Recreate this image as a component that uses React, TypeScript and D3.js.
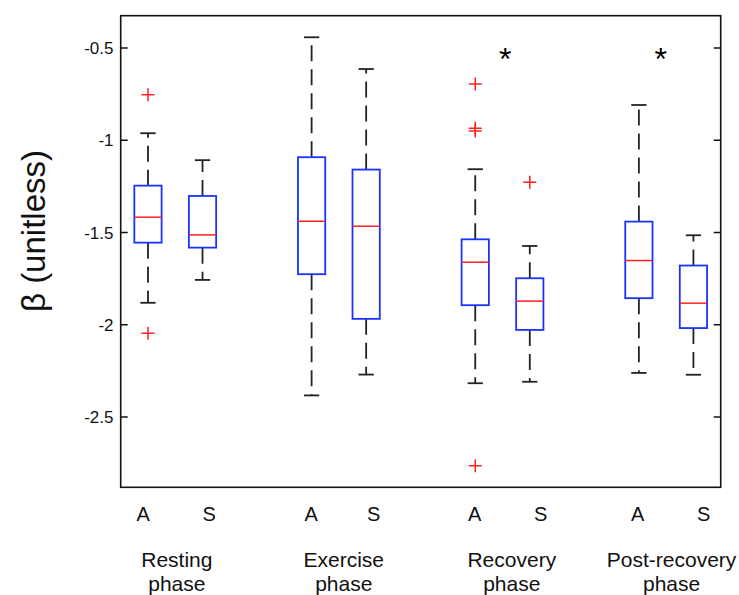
import React from 'react';
import * as d3 from 'd3';

// box positions on the x axis (two per phase, gap between phases)
const positions = [1, 2, 4, 5, 7, 8, 10, 11];
const boxLabels = ['A', 'S', 'A', 'S', 'A', 'S', 'A', 'S'];
// where the A / S labels sit (x in axis units, they are offset from the boxes)
const boxLabelX = [0.91, 2.12, 3.99, 5.14, 6.99, 8.2, 9.98, 11.19];

// box statistics
const whiskerHi = [-0.962, -1.108, -0.442, -0.614, -1.157, -1.573, -0.809, -1.515];
const q3 = [-1.246, -1.302, -1.092, -1.159, -1.537, -1.748, -1.441, -1.679];
const medians = [-1.417, -1.513, -1.439, -1.466, -1.661, -1.872, -1.652, -1.883];
const q1 = [-1.555, -1.582, -1.726, -1.968, -1.894, -2.028, -1.856, -2.018];
const whiskerLo = [-1.881, -1.757, -2.383, -2.27, -2.317, -2.309, -2.261, -2.271];
const outliers = [
  [-0.753, -2.046],
  [],
  [],
  [],
  [-0.695, -0.935, -0.95, -2.764],
  [-1.228],
  [],
  [],
];

// phase labels and where they sit (x in axis units)
const phaseLines = [
  ['Resting', 'phase'],
  ['Exercise', 'phase'],
  ['Recovery', 'phase'],
  ['Post-recovery', 'phase'],
];
const phaseX = [1.53, 4.59, 7.67, 10.6];

// significance markers
const starX = [7.55, 10.4];
const starY = -0.527;

const yTicks = [-2.5, -2, -1.5, -1, -0.5];

const W = 739;
const H = 595;
const FONT = '"Liberation Sans", Arial, Helvetica, sans-serif';

export default function App() {
  const x = d3.scaleLinear().domain([0.5, 11.5]).range([120.7, 720.7]);
  const y = d3.scaleLinear().domain([-2.881, -0.325]).range([487.3, 15.7]);

  const [x0, x1] = x.range();
  const [y0, y1] = y.range();
  const boxHalf = 0.25;
  const capHalf = 0.14;
  const unit = x(1) - x(0);

  return (
    <svg
      width={W}
      height={H}
      style={{ position: 'absolute', left: 0, top: 0, display: 'block', background: '#fff' }}
      fontFamily={FONT}
    >
      {/* boxes */}
      {positions.map((p, i) => {
        const cx = x(p);
        return (
          <g key={i}>
            <line
              x1={cx} x2={cx} y1={y(q3[i])} y2={y(whiskerHi[i])}
              stroke="#222" strokeWidth={1.8} strokeDasharray="16,8"
            />
            <line
              x1={cx} x2={cx} y1={y(q1[i])} y2={y(whiskerLo[i])}
              stroke="#222" strokeWidth={1.8} strokeDasharray="16,8"
            />
            <line
              x1={cx - capHalf * unit} x2={cx + capHalf * unit}
              y1={y(whiskerHi[i])} y2={y(whiskerHi[i])}
              stroke="#222" strokeWidth={1.8}
            />
            <line
              x1={cx - capHalf * unit} x2={cx + capHalf * unit}
              y1={y(whiskerLo[i])} y2={y(whiskerLo[i])}
              stroke="#222" strokeWidth={1.8}
            />
            <rect
              x={x(p - boxHalf)} y={y(q3[i])}
              width={x(p + boxHalf) - x(p - boxHalf)} height={y(q1[i]) - y(q3[i])}
              fill="none" stroke="#1a33ff" strokeWidth={1.8}
            />
            <line
              x1={x(p - boxHalf)} x2={x(p + boxHalf)}
              y1={y(medians[i])} y2={y(medians[i])}
              stroke="#ff2020" strokeWidth={1.5}
            />
            {outliers[i].map((v, j) => (
              <path
                key={j}
                d={`M${cx - 6.5},${y(v)}H${cx + 6.5}M${cx},${y(v) - 6.5}V${y(v) + 6.5}`}
                stroke="#ff2020" strokeWidth={1.5} fill="none"
              />
            ))}
          </g>
        );
      })}

      {/* frame */}
      <rect x={x0} y={y1} width={x1 - x0} height={y0 - y1} fill="none" stroke="#111" strokeWidth={1.6} />

      {/* y ticks, inward on both sides */}
      {yTicks.map((t) => (
        <g key={t}>
          <line x1={x0} x2={x0 + 7} y1={y(t)} y2={y(t)} stroke="#111" strokeWidth={1.5} />
          <line x1={x1} x2={x1 - 7} y1={y(t)} y2={y(t)} stroke="#111" strokeWidth={1.5} />
          <text x={113.5} y={y(t)} dy="0.36em" textAnchor="end" fontSize={17} fill="#111">
            {String(t)}
          </text>
        </g>
      ))}

      {/* significance stars */}
      {starX.map((s, i) => (
        <text key={i} x={x(s)} y={y(starY)} dy="0.52em" textAnchor="middle" fontSize={32} fill="#000">
          *
        </text>
      ))}

      {/* A / S labels */}
      {boxLabelX.map((p, i) => (
        <text key={i} x={x(p)} y={521} textAnchor="middle" fontSize={20} fill="#111">
          {boxLabels[i]}
        </text>
      ))}

      {/* phase labels */}
      {phaseLines.map((lines, i) => (
        <text key={i} x={x(phaseX[i])} textAnchor="middle" fontSize={21} fill="#111">
          {lines.map((l, j) => (
            <tspan key={j} x={x(phaseX[i])} y={567 + j * 23.5}>
              {l}
            </tspan>
          ))}
        </text>
      ))}

      {/* y axis label */}
      <text transform="translate(45,231) rotate(-90)" textAnchor="middle" fontSize={33} fill="#111">
        β (unitless)
      </text>
    </svg>
  );
}
